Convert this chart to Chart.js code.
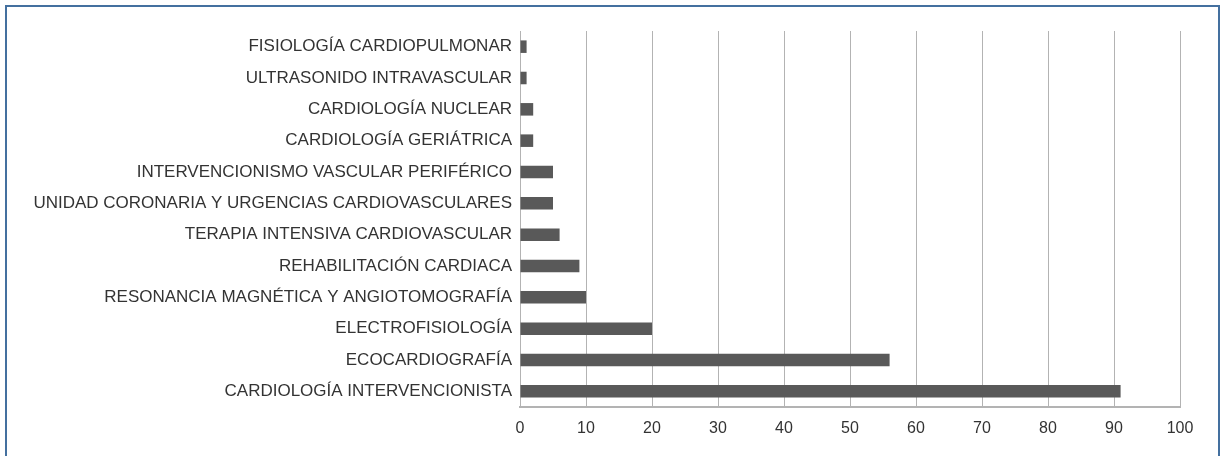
<!DOCTYPE html>
<html>
<head>
<meta charset="utf-8">
<script src="https://cdn.jsdelivr.net/npm/chart.js@4/dist/chart.umd.min.js"></script>
<style>
    html, body { margin: 0; padding: 0; background: #fff; }
    #wrap { position: relative; width: 1222px; height: 456px; overflow: hidden; }
    #frame { position: absolute; left: 5px; top: 5px; width: 1215px; height: 470px; border: 2px solid #44709f; box-sizing: border-box; }
    #chart { position: absolute; left: 0; top: 0; }
</style>
</head>
<body>
<div id="wrap">
    <div id="frame"></div>
    <canvas id="chart" width="1222" height="456"></canvas>
</div>
<script>
const categories = [
    "FISIOLOGÍA CARDIOPULMONAR",
    "ULTRASONIDO INTRAVASCULAR",
    "CARDIOLOGÍA NUCLEAR",
    "CARDIOLOGÍA GERIÁTRICA",
    "INTERVENCIONISMO VASCULAR PERIFÉRICO",
    "UNIDAD CORONARIA Y URGENCIAS CARDIOVASCULARES",
    "TERAPIA INTENSIVA CARDIOVASCULAR",
    "REHABILITACIÓN CARDIACA",
    "RESONANCIA MAGNÉTICA Y ANGIOTOMOGRAFÍA",
    "ELECTROFISIOLOGÍA",
    "ECOCARDIOGRAFÍA",
    "CARDIOLOGÍA INTERVENCIONISTA"
];
const values = [1, 1, 2, 2, 5, 5, 6, 9, 10, 20, 56, 91];
const xMin = 0;
const xMax = 100;
const xStep = 10;

const textColor = "#333333";
const gridColor = "#b3b3b3";
const fontFamily = "Liberation Sans, Arial, sans-serif";

new Chart(document.getElementById("chart"), {
    type: "bar",
    data: {
        labels: categories,
        datasets: [{
            data: values,
            backgroundColor: "#595959",
            barPercentage: 0.4,
            categoryPercentage: 1
        }]
    },
    options: {
        indexAxis: "y",
        responsive: false,
        animation: false,
        layout: {
            padding: { top: 31, right: 42, left: 0, bottom: 0 }
        },
        plugins: {
            legend: { display: false },
            tooltip: { enabled: false }
        },
        scales: {
            x: {
                min: xMin,
                max: xMax,
                ticks: {
                    stepSize: xStep,
                    color: textColor,
                    padding: 12,
                    font: { family: fontFamily, size: 16 }
                },
                grid: {
                    color: gridColor,
                    lineWidth: 1,
                    drawTicks: false
                },
                border: { color: gridColor, width: 2 },
                afterFit: (scale) => { scale.height = 49; }
            },
            y: {
                ticks: {
                    color: textColor,
                    padding: 8,
                    autoSkip: false,
                    font: { family: fontFamily, size: 17 }
                },
                grid: { display: false, drawTicks: false },
                border: { color: gridColor, width: 1 },
                afterFit: (scale) => { scale.width = 520; }
            }
        }
    }
});
</script>
</body>
</html>
